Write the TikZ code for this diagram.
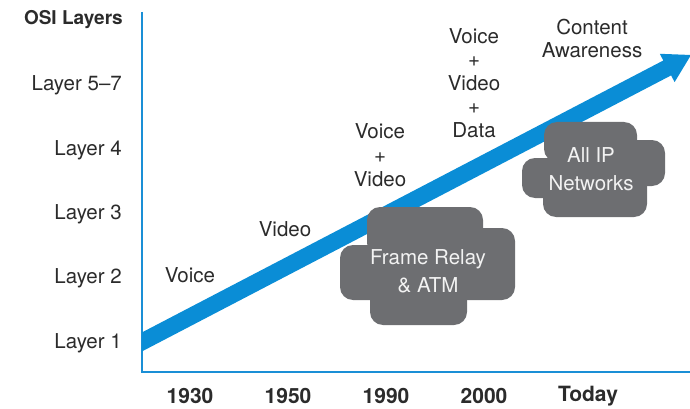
\documentclass[tikz,border=0pt]{standalone}
\usepackage{fontspec}
\setmainfont{TeX Gyre Heros}
\definecolor{axisblue}{HTML}{1A8FD6}
\definecolor{arrowblue}{HTML}{0A8DD6}
\definecolor{cloudgray}{HTML}{6D6E71}
\definecolor{txt}{HTML}{2B2B2B}
\definecolor{cloudtxt}{HTML}{F2F2F2}
\begin{document}
\begin{tikzpicture}[x=1pt,y=-1pt,
  lab/.style={text=txt,font=\fontsize{20.5}{24}\selectfont,inner sep=0pt,align=center},
  laylab/.style={lab,anchor=east},
  yearlab/.style={text=txt,font=\fontsize{21}{24}\selectfont\bfseries,inner sep=0pt},
  cloudpart/.style={fill=cloudgray,rounded corners=13pt},
  cloudlab/.style={text=cloudtxt,font=\fontsize{20.5}{28}\selectfont,inner sep=0pt,align=center},
  axisline/.style={draw=axisblue,line width=1.6pt}]
\useasboundingbox (0,0) rectangle (690,409);
% axes
\coordinate (ytop) at (142,12);
\coordinate (origin) at (142,372);
\coordinate (xend) at (690,372);
\draw[axisline] (ytop) -- (origin) -- (xend);
% big arrow
\fill[arrowblue] (142,332.4) -- (663.3,60.5) -- (659.8,53.8) -- (691,55) -- (674.6,82.1) -- (671.1,75.4) -- (142,351.4) -- cycle;
% clouds
\begin{scope}
\fill[cloudpart] (367,207) rectangle (483,256);
\fill[cloudpart] (440,228) rectangle (515,300);
\fill[cloudpart] (340,245) rectangle (460,300);
\fill[cloudpart] (370,262) rectangle (467,325);
\fill[cloudgray] (380,230) rectangle (500,300);
\end{scope}
\begin{scope}
\fill[cloudpart] (544,122) rectangle (637,162);
\fill[cloudpart] (600,140) rectangle (665,186);
\fill[cloudpart] (522,158) rectangle (612,198);
\fill[cloudpart] (543,172) rectangle (647,217);
\fill[cloudgray] (560,140) rectangle (640,200);
\end{scope}
\node[cloudlab] (fr) at (428,271) {Frame Relay\\\& ATM};
\node[cloudlab] (ip) at (591,169) {All IP\\Networks};
% y labels
\node[lab,font=\fontsize{19}{22}\selectfont\bfseries,anchor=east] (osi) at (123,20) {OSI Layers};
\node[laylab] (l57) at (122,85) {Layer 5–7};
\node[laylab] (l4) at (122,150) {Layer 4};
\node[laylab] (l3) at (122,214) {Layer 3};
\node[laylab] (l2) at (122,278) {Layer 2};
\node[laylab] (l1) at (122,343) {Layer 1};
% x labels
\node[yearlab] (y1930) at (190,396) {1930};
\node[yearlab] (y1950) at (288,396) {1950};
\node[yearlab] (y1990) at (386,396) {1990};
\node[yearlab] (y2000) at (484,396) {2000};
\node[yearlab] (ytoday) at (588,396) {Today};
% era labels
\node[lab] (voice) at (190,275) {Voice};
\node[lab] (video) at (285,229) {Video};
\node[lab,font=\fontsize{20.5}{24}\selectfont] (vv) at (380,155) {Voice\\+\\Video};
\node[lab,font=\fontsize{20.5}{23.5}\selectfont] (vvd) at (474,83) {Voice\\+\\Video\\+\\Data};
\node[lab,font=\fontsize{20.5}{23}\selectfont] (ca) at (592,38) {Content\\Awareness};
\end{tikzpicture}
\end{document}
